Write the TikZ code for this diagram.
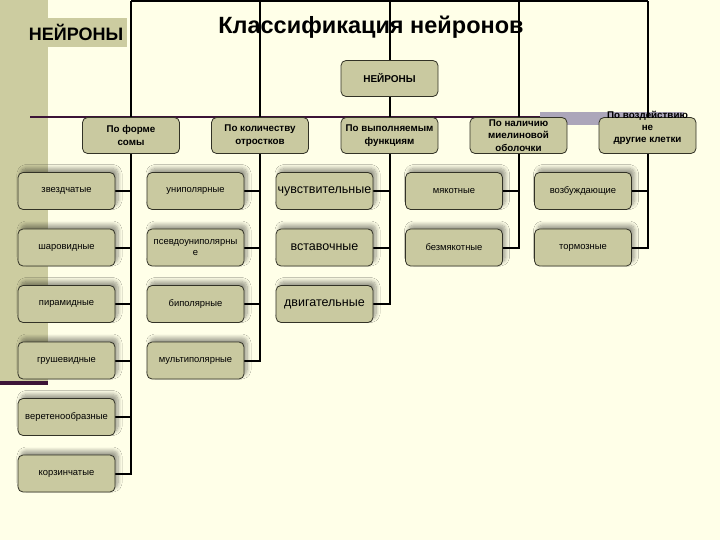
\documentclass[tikz,border=0pt]{standalone}
\usepackage{fontspec}
\setmainfont{Liberation Sans}
\usetikzlibrary{positioning,backgrounds,shadows.blur}

\definecolor{bgyellow}{RGB}{255,255,232}
\definecolor{khaki}{RGB}{204,204,160}
\definecolor{boxfill}{RGB}{201,201,160}
\definecolor{boxline}{RGB}{50,50,38}
\definecolor{plum}{RGB}{60,20,55}
\definecolor{greybar}{RGB}{172,166,186}

\tikzset{
  branch/.style={draw=boxline, fill=boxfill, rounded corners=5pt, line width=0.8pt,
    minimum width=97pt, minimum height=36pt, inner sep=0.5pt, align=center,
    font=\fontsize{9.8}{12.3}\selectfont\bfseries},
  leaf/.style={branch, minimum height=37pt, text width=95pt,
    font=\fontsize{9.4}{10.5}\selectfont,
    blur shadow={shadow xshift=3pt, shadow yshift=4pt, shadow blur radius=4pt,
      shadow blur steps=8, shadow opacity=40}},
  bigleaf/.style={leaf, font=\fontsize{12.5}{14}\selectfont},
  wire/.style={line width=2pt, black}
}

\begin{document}
\begin{tikzpicture}[x=1pt, y=-1pt]
    \useasboundingbox (0,0) rectangle (720,540);

    % heading
    \node[fill=khaki, minimum width=102pt, minimum height=29pt, inner sep=0pt,
      font=\fontsize{18}{20}\selectfont\bfseries] (label) at (76,32.5) {НЕЙРОНЫ};
    \node[anchor=base, font=\fontsize{23.5}{26}\selectfont\bfseries] (title) at (371,34) {Классификация нейронов};

    \node[branch, font=\fontsize{10}{12}\selectfont\bfseries] (root) at (389.5,78.5) {НЕЙРОНЫ};

    \node[branch] (soma) at (131,135.5) {По форме\\сомы};
    \node[branch] (proc) at (260,135.5) {По количеству\\отростков};
    \node[branch] (func) at (389.5,135.5) {По выполняемым\\функциям};
    \node[branch] (myel) at (518.5,135.5) {По наличию\\миелиновой\\оболочки};
    \node[branch] (act) at (647.5,135.5)
      {\raisebox{5pt}[0pt][0pt]{\begin{tabular}{@{}c@{}}По воздействию\\не\\другие клетки\end{tabular}}};

    \foreach \txt [count=\i] in {звездчатые,шаровидные,пирамидные,грушевидные,веретенообразные,корзинчатые}
    \node[leaf] (soma\i) at (66.5,{134.5+56.5*\i}) {\txt};

    \foreach \txt [count=\i] in {униполярные,{псевдоуниполярны\\е},биполярные,мультиполярные}
    \node[leaf] (proc\i) at (195.5,{134.5+56.5*\i}) {\txt};

    \foreach \txt [count=\i] in {чувствительные,вставочные,двигательные}
    \node[bigleaf] (func\i) at (324.5,{134.5+56.5*\i}) {\txt};

    \foreach \txt [count=\i] in {мякотные,безмякотные}
    \node[leaf] (myel\i) at (454,{134.5+56.5*\i}) {\txt};

    \foreach \txt [count=\i] in {возбуждающие,тормозные}
    \node[leaf] (act\i) at (583,{134.5+56.5*\i}) {\txt};

    \begin{pgfonlayer}{background}
    \fill[bgyellow] (0,0) rectangle (720,540);
    \fill[khaki] (0,0) rectangle (48,383);
    \fill[plum] (0,381) rectangle (48,385);
    \draw[plum, line width=1.5pt] (30,117) -- (540,117);
    \fill[greybar] (540,112) rectangle (684,125);

    % connectors
    \coordinate (top) at (389.5,1.5);
    \draw[wire] (soma.north |- top) -- (act.north |- top);
    \foreach \c in {soma,proc,myel,act}
    \draw[wire] (\c.north |- top) -- (\c.north);
    \draw[wire] (top) -- (root.north);
    \draw[wire] (root.south) -- (func.north);

    \draw[wire] (soma.south) |- (soma6.east);
    \foreach \i in {1,...,5}
    \draw[wire] (soma\i.east) -- (soma\i.east -| soma.south);

    \draw[wire] (proc.south) |- (proc4.east);
    \foreach \i in {1,...,3}
    \draw[wire] (proc\i.east) -- (proc\i.east -| proc.south);

    \draw[wire] (func.south) |- (func3.east);
    \foreach \i in {1,2}
    \draw[wire] (func\i.east) -- (func\i.east -| func.south);

    \draw[wire] (myel.south) |- (myel2.east);
    \draw[wire] (myel1.east) -- (myel1.east -| myel.south);

    \draw[wire] (act.south) |- (act2.east);
    \draw[wire] (act1.east) -- (act1.east -| act.south);
    \end{pgfonlayer}
\end{tikzpicture}
\end{document}
